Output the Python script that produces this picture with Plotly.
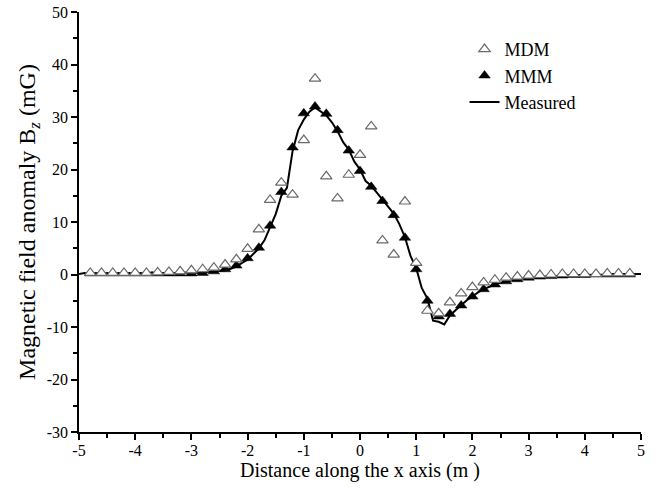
import plotly.graph_objects as go

# ---- data ----
x_pts = [-4.8, -4.6, -4.4, -4.2, -4.0, -3.8, -3.6, -3.4, -3.2, -3.0,
         -2.8, -2.6, -2.4, -2.2, -2.0, -1.8, -1.6, -1.4, -1.2, -1.0,
         -0.8, -0.6, -0.4, -0.2, 0.0, 0.2, 0.4, 0.6, 0.8, 1.0,
         1.2, 1.4, 1.6, 1.8, 2.0, 2.2, 2.4, 2.6, 2.8, 3.0,
         3.2, 3.4, 3.6, 3.8, 4.0, 4.2, 4.4, 4.6, 4.8]

mdm = [0.3, 0.3, 0.3, 0.3, 0.3, 0.3, 0.4, 0.5, 0.6, 0.8,
       1.0, 1.3, 1.9, 2.9, 4.9, 8.6, 14.2, 17.5, 15.2, 25.6,
       37.3, 18.7, 14.5, 19.0, 22.8, 28.2, 6.5, 3.8, 13.9, 2.2,
       -6.9, -7.4, -5.3, -3.6, -2.4, -1.5, -1.0, -0.6, -0.4, -0.2,
       -0.1, 0.0, 0.1, 0.1, 0.1, 0.1, 0.2, 0.2, 0.2]

mmm = [0.2, 0.2, 0.2, 0.2, 0.2, 0.2, 0.2, 0.2, 0.2, 0.2,
       0.3, 0.6, 1.0, 1.7, 3.1, 5.1, 9.3, 15.7, 24.2, 30.7,
       32.0, 30.6, 27.5, 23.6, 19.7, 16.7, 14.0, 11.3, 7.0, 1.0,
       -5.0, -8.0, -7.5, -5.9, -4.2, -2.8, -1.9, -1.3, -0.9, -0.6,
       -0.4, -0.3, -0.2, -0.1, -0.1, 0.0, 0.0, 0.0, 0.0]

x_meas = [-5.0, -4.9, -4.8, -4.7, -4.6, -4.5, -4.4, -4.3, -4.2, -4.1,
          -4.0, -3.9, -3.8, -3.7, -3.6, -3.5, -3.4, -3.3, -3.2, -3.1,
          -3.0, -2.9, -2.8, -2.7, -2.6, -2.5, -2.4, -2.3, -2.2, -2.1,
          -2.0, -1.9, -1.8, -1.7, -1.6, -1.5, -1.4, -1.3, -1.2, -1.1,
          -1.0, -0.9, -0.8, -0.7, -0.6, -0.5, -0.4, -0.3, -0.2, -0.1,
          0.0, 0.1, 0.2, 0.3, 0.4, 0.5, 0.6, 0.7, 0.8, 0.9,
          1.0, 1.1, 1.2, 1.3, 1.4, 1.5, 1.6, 1.7, 1.8, 1.9,
          2.0, 2.1, 2.2, 2.3, 2.4, 2.5, 2.6, 2.7, 2.8, 2.9,
          3.0, 3.1, 3.2, 3.3, 3.4, 3.5, 3.6, 3.7, 3.8, 3.9,
          4.0, 4.1, 4.2, 4.3, 4.4, 4.5, 4.6, 4.7, 4.8, 4.9, 5.0]

measured = [0.1, 0.3, 0.0, 0.3, 0.1, 0.3, 0.0, 0.3, 0.1, 0.3,
            0.0, 0.3, 0.1, 0.4, 0.1, 0.3, 0.1, 0.3, 0.2, 0.4,
            0.2, 0.3, 0.3, 0.5, 0.5, 0.6, 0.8, 1.1, 1.5, 2.2,
            2.8, 3.9, 5.0, 6.5, 9.0, 11.5, 15.0, 16.5, 23.5, 27.5,
            29.5, 31.0, 31.8, 31.0, 30.3, 29.0, 27.3, 25.2, 23.8, 21.5,
            20.0, 17.8, 16.9, 15.6, 14.3, 12.8, 11.6, 9.6, 7.1, 3.5,
            1.2, -2.6, -4.6, -8.8, -9.0, -9.5, -7.8, -6.8, -5.8, -4.9,
            -4.2, -3.4, -2.8, -2.3, -1.9, -1.6, -1.3, -1.1, -0.9, -0.8,
            -0.6, -0.5, -0.4, -0.4, -0.3, -0.3, -0.2, -0.2, -0.1, -0.1,
            -0.1, 0.0, 0.0, 0.0, 0.0, 0.1, 0.0, 0.1, 0.1, 0.2, 0.1]

x_ticks = [-5, -4, -3, -2, -1, 0, 1, 2, 3, 4, 5]
x_ticktext = ["-5", "-4", "-3", "-2", "-1", "0", "1", "2", "3", "4", "5"]
y_ticks = [-30, -20, -10, 0, 10, 20, 30, 40, 50]
y_ticktext = ["-30", "-20", "-10", "0", "10", "20", "30", "40", "50"]

FONT = "Liberation Serif, Times New Roman, serif"

fig = go.Figure()

fig.add_trace(go.Scatter(
    x=x_meas, y=measured, mode="lines", name="Measured",
    line=dict(color="black", width=2), legendgroup="c", legendrank=3))

fig.add_trace(go.Scatter(
    x=x_pts, y=mmm, mode="markers", name="MMM",
    marker=dict(symbol="triangle-up", size=10, color="black",
                line=dict(color="black", width=0.5)),
    legendgroup="b", legendrank=2))

fig.add_trace(go.Scatter(
    x=x_pts, y=mdm, mode="markers", name="MDM",
    marker=dict(symbol="triangle-up", size=10, color="white",
                line=dict(color="#6a6a6a", width=1.2)),
    legendgroup="a", legendrank=1))

axis_common = dict(
    showline=True, linecolor="black", linewidth=1.5,
    ticks="outside", ticklen=6, tickwidth=1.5, tickcolor="black",
    showgrid=False, zeroline=False, mirror=False, automargin=False,
    tickfont=dict(family=FONT, size=16, color="black"),
)

fig.update_xaxes(
    range=[-5, 5], tickvals=x_ticks, ticktext=x_ticktext,
    minor=dict(ticks="outside", ticklen=4, tickwidth=1.5, tickcolor="black", dtick=0.5),
    title=dict(text="Distance along the x axis (m )",
               font=dict(family=FONT, size=20, color="black"), standoff=0),
    ticklabelstandoff=-3,
    **axis_common)

fig.update_yaxes(
    range=[-30, 50], tickvals=y_ticks, ticktext=y_ticktext,
    minor=dict(ticks="outside", ticklen=4, tickwidth=1.5, tickcolor="black", dtick=5),
    title=dict(text="Magnetic field anomaly B<sub><i>z</i></sub> (mG)",
               font=dict(family=FONT, size=24, color="black"), standoff=4),
    **axis_common)

fig.update_layout(
    width=655, height=489,
    margin=dict(l=79, r=14, t=12, b=57),
    plot_bgcolor="white", paper_bgcolor="white",
    font=dict(family=FONT, color="black"),
    showlegend=True,
    legend=dict(x=0.686, y=0.955, xanchor="left", yanchor="top",
                bgcolor="rgba(0,0,0,0)", borderwidth=0,
                font=dict(family=FONT, size=18, color="black"),
                tracegroupgap=0, itemwidth=30),
)

fig.write_html("out.html", config={"displayModeBar": False},
               post_script="document.body.style.margin='0';document.body.style.overflow='hidden';")
